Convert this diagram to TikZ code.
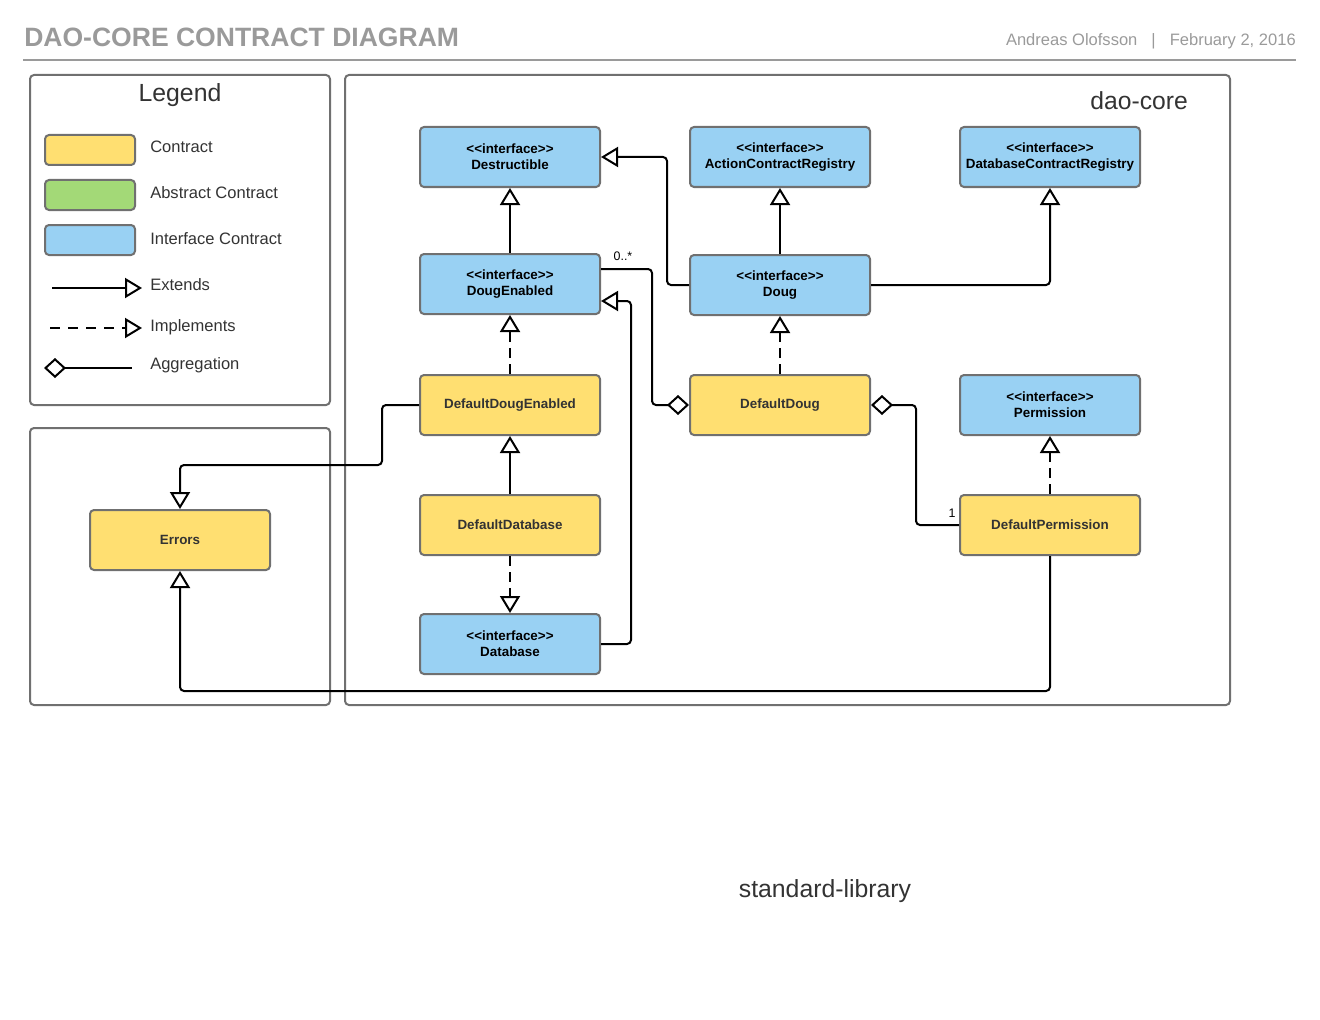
\documentclass[tikz,border=0pt]{standalone}
\usepackage{fontspec}
\setmainfont{Liberation Sans}
\usetikzlibrary{arrows.meta,calc}
\definecolor{cblue}{HTML}{99D1F3}
\definecolor{cyellow}{HTML}{FFDF71}
\definecolor{cgreen}{HTML}{A3D977}
\definecolor{cborder}{HTML}{707070}
\definecolor{ctitle}{HTML}{9A9A9A}
\definecolor{ctext}{HTML}{333333}
\begin{document}
\begin{tikzpicture}[x=0.75pt,y=-0.75pt,
  cls/.style={draw=cborder, line width=1.5pt, rounded corners=3pt,
    minimum width=135pt, minimum height=45pt, inner sep=0pt, align=center,
    font=\bfseries\fontsize{10.05}{12}\selectfont},
  iface/.style={cls, fill=cblue, text=black},
  contract/.style={cls, fill=cyellow, text=ctext},
  swatch/.style={draw=cborder, line width=1.5pt, rounded corners=3pt,
    minimum width=67.5pt, minimum height=22.5pt, inner sep=0pt},
  group/.style={draw=cborder, line width=1.5pt, rounded corners=3pt},
  legtext/.style={anchor=base west, inner sep=0pt, text=ctext, font=\fontsize{12.4}{14}\selectfont},
  conn/.style={draw=black, line width=1.5pt, rounded corners=3pt},
  ext/.style={conn, -{Triangle[open,length=12.75pt,width=15pt]}},
  impl/.style={ext, dash pattern=on 7.5pt off 4.5pt},
  agg/.style={conn, {Diamond[open,length=16.5pt,width=15pt]}-},
  mult/.style={text=black, font=\fontsize{9.3}{11}\selectfont, inner sep=0pt}
]
\useasboundingbox (0,0) rectangle (1320,1020);

% header
\node[anchor=base west, text=ctitle, inner sep=0pt,
  font=\bfseries\fontsize{19.9}{22}\selectfont] (title) at (24,47) {DAO-CORE CONTRACT DIAGRAM};
\node[anchor=base east, text=ctitle, inner sep=0pt,
  font=\fontsize{12.4}{14}\selectfont] (author) at (1296,46)
  {Andreas Olofsson\hspace{0.85em}|\hspace{0.85em}February 2, 2016};
\draw[ctitle, line width=1.5pt] (23,60) -- (1296,60);

% group boxes
\draw[group] (30,75) rectangle (330,405);
\draw[group] (30,428) rectangle (330,705);
\draw[group] (345,75) rectangle (1230,705);
\node[anchor=base, text=ctext, inner sep=0pt, font=\fontsize{18.6}{20}\selectfont] (legtitle) at (180,102) {Legend};
\node[anchor=base east, text=ctext, inner sep=0pt, font=\fontsize{18.5}{20}\selectfont] (daocore) at (1188,110) {dao-core};
\node[anchor=base, text=ctext, inner sep=0pt, font=\fontsize{18.6}{20}\selectfont] (stdlib) at (825,897) {standard-library};

% legend
\node[swatch, fill=cyellow] (sw1) at (90,150) {};
\node[swatch, fill=cgreen] (sw2) at (90,195) {};
\node[swatch, fill=cblue] (sw3) at (90,240) {};
\node[legtext] (l1) at (150,153) {Contract};
\node[legtext] (l2) at (150,199) {Abstract Contract};
\node[legtext] (l3) at (150,244) {Interface Contract};
\node[legtext] (l4) at (150,290) {Extends};
\node[legtext] (l5) at (150,331) {Implements};
\node[legtext] (l6) at (150,369) {Aggregation};
\coordinate (e1) at (52,288); \coordinate (e2) at (142,288);
\coordinate (i1) at (50,328); \coordinate (i2) at (142,328);
\coordinate (a1) at (44,368); \coordinate (a2) at (132,368);
\draw[ext] (e1) -- (e2);
\draw[impl, dash pattern=on 7.5pt off 6pt] (i1) -- (i2);
\draw[agg] (a1) -- (a2);

% classes
\node[iface] (destr) at (510,157) {<\kern0pt<interface>\kern0pt>\\Destructible};
\node[iface] (acr) at (780,157) {<\kern0pt<interface>\kern0pt>\\ActionContractRegistry};
\node[iface] (dcr) at (1050,157) {<\kern0pt<interface>\kern0pt>\\DatabaseContractRegistry};
\node[iface] (dougen) at (510,284) {<\kern0pt<interface>\kern0pt>\\DougEnabled};
\node[iface] (doug) at (780,285) {<\kern0pt<interface>\kern0pt>\\Doug};
\node[contract] (dde) at (510,405) {DefaultDougEnabled};
\node[contract] (ddoug) at (780,405) {DefaultDoug};
\node[iface] (perm) at (1050,405) {<\kern0pt<interface>\kern0pt>\\Permission};
\node[contract] (ddb) at (510,525) {DefaultDatabase};
\node[contract] (dperm) at (1050,525) {DefaultPermission};
\node[iface] (db) at (510,644) {<\kern0pt<interface>\kern0pt>\\Database};
\node[contract] (errors) at (180,540) {Errors};

% connectors
\draw[ext] (dougen.north) -- (destr.south);
\draw[ext] (doug.west) -- ++(-22,0) |- (destr.east);
\draw[ext] (doug.north) -- (acr.south);
\draw[ext] (doug.east) -| (dcr.south);
\draw[impl] (ddoug.north) -- (doug.south);
\draw[impl] (dde.north) -- (dougen.south);
\draw[ext] (ddb.north) -- (dde.south);
\draw[impl] (ddb.south) -- (db.north);
\draw[ext] (db.east) -- ++(30,0) |- ($(dougen.east)+(0,17)$);
\draw[agg] (ddoug.west) -- ++(-37,0) |- ($(dougen.east)+(0,-15)$);
\node[mult, anchor=base] (m1) at (623,260) {0..*};
\draw[agg] (ddoug.east) -- ++(45,0) |- (dperm.west);
\node[mult, anchor=base] (m2) at (952,517) {1};
\draw[impl] (dperm.north) -- (perm.south);
\draw[ext] (dde.west) -- ++(-37,0) -- ++(0,60) -| (errors.north);
\draw[ext] (dperm.south) -- ++(0,135) -| (errors.south);
\end{tikzpicture}
\end{document}
